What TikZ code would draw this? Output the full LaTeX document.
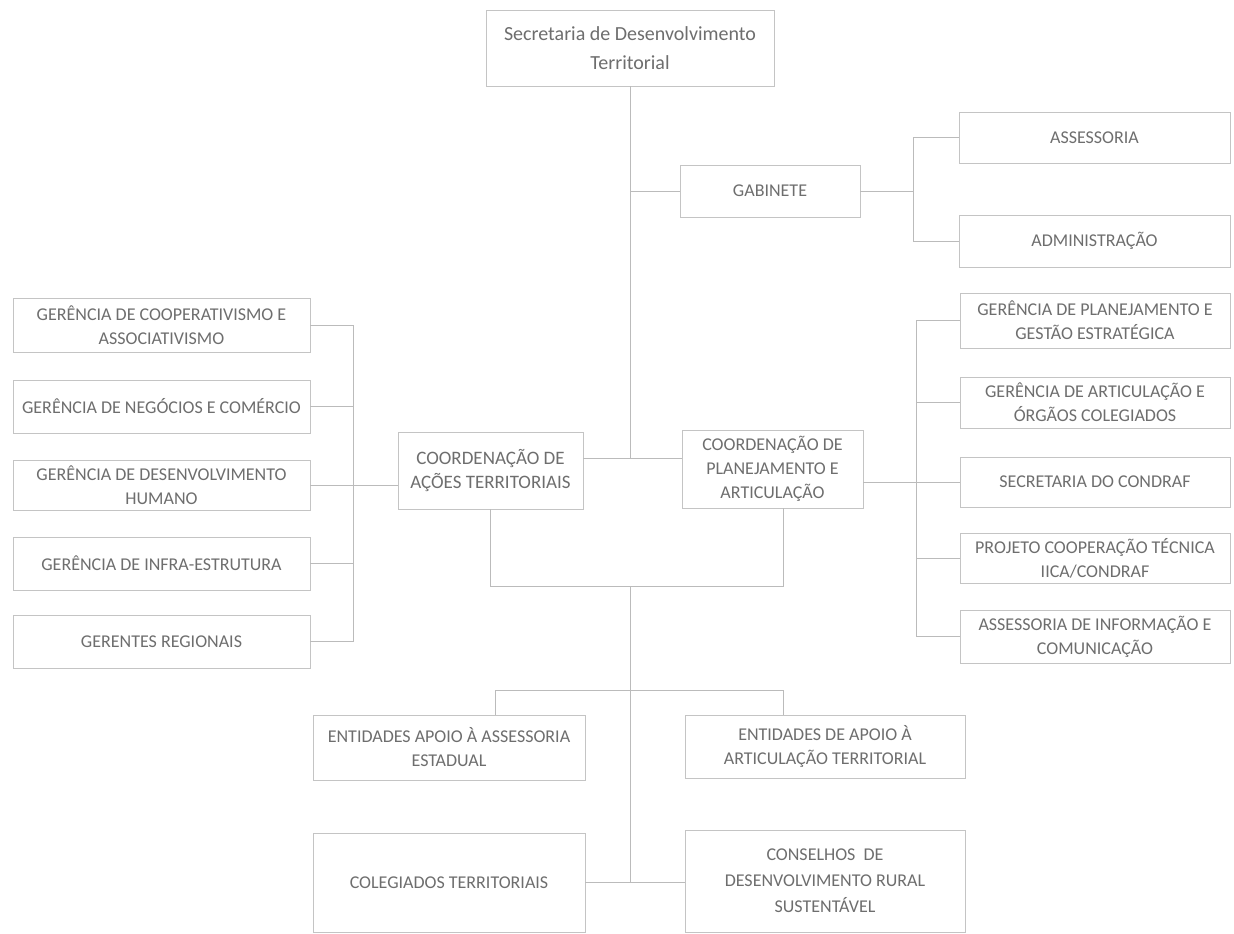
\documentclass[tikz,border=0pt]{standalone}
\usepackage{fontspec}
\setmainfont{Carlito}
\definecolor{boxline}{HTML}{C4C4C4}
\definecolor{conn}{HTML}{BBBBBB}
\definecolor{txt}{HTML}{6E6E6E}
\tikzset{
  orgbox/.style={draw=boxline, line width=0.8pt, fill=white, text=txt, align=center,
    inner sep=2pt, font=\fontsize{18}{24}\selectfont},
  wire/.style={draw=conn, line width=0.8pt}
}
\begin{document}
\begin{tikzpicture}[x=1pt,y=-1pt]
\useasboundingbox[fill=white] (0,0) rectangle (1234,934);

% top
\node[orgbox,minimum width=288pt,minimum height=76pt,font=\fontsize{20}{29}\selectfont] (top) at (630,48) {Secretaria de Desenvolvimento\\Territorial};
\node[orgbox,minimum width=180pt,minimum height=52pt] (gab) at (770,191) {GABINETE};
\node[orgbox,minimum width=271pt,minimum height=51pt] (ass) at (1094.5,137.5) {ASSESSORIA};
\node[orgbox,minimum width=271pt,minimum height=52pt] (adm) at (1094.5,241) {ADMINISTRAÇÃO};

% right column
\node[orgbox,minimum width=270pt,minimum height=55pt] (r1) at (1095,320.5) {GERÊNCIA DE PLANEJAMENTO E\\GESTÃO ESTRATÉGICA};
\node[orgbox,minimum width=270pt,minimum height=51pt] (r2) at (1095,402.5) {GERÊNCIA DE ARTICULAÇÃO E\\ÓRGÃOS COLEGIADOS};
\node[orgbox,minimum width=270pt,minimum height=50pt] (r3) at (1095,482) {SECRETARIA DO CONDRAF};
\node[orgbox,minimum width=270pt,minimum height=50pt] (r4) at (1095,558) {PROJETO COOPERAÇÃO TÉCNICA\\IICA/CONDRAF};
\node[orgbox,minimum width=270pt,minimum height=53pt] (r5) at (1095,636.5) {ASSESSORIA DE INFORMAÇÃO E\\COMUNICAÇÃO};

% left column
\node[orgbox,minimum width=297pt,minimum height=54pt] (l1) at (161.5,325) {GERÊNCIA DE COOPERATIVISMO E\\ASSOCIATIVISMO};
\node[orgbox,minimum width=297pt,minimum height=53pt] (l2) at (161.5,406.5) {GERÊNCIA DE NEGÓCIOS E COMÉRCIO};
\node[orgbox,minimum width=297pt,minimum height=50pt] (l3) at (161.5,485) {GERÊNCIA DE DESENVOLVIMENTO\\HUMANO};
\node[orgbox,minimum width=297pt,minimum height=53pt] (l4) at (161.5,563.5) {GERÊNCIA DE INFRA-ESTRUTURA};
\node[orgbox,minimum width=297pt,minimum height=53pt] (l5) at (161.5,641.5) {GERENTES REGIONAIS};

% coordinations
\node[orgbox,minimum width=185pt,minimum height=77pt,font=\fontsize{19}{24}\selectfont] (cat) at (490.5,470.5) {COORDENAÇÃO DE\\AÇÕES TERRITORIAIS};
\node[orgbox,minimum width=181pt,minimum height=78pt] (cpa) at (772.5,469) {COORDENAÇÃO DE\\PLANEJAMENTO E\\ARTICULAÇÃO};

% bottom
\node[orgbox,minimum width=272pt,minimum height=65pt] (ent1) at (449,747.5) {ENTIDADES APOIO À ASSESSORIA\\ESTADUAL};
\node[orgbox,minimum width=280pt,minimum height=63pt] (ent2) at (825,746.5) {ENTIDADES DE APOIO À\\ARTICULAÇÃO TERRITORIAL};
\node[orgbox,minimum width=272pt,minimum height=99pt] (col) at (449,882.5) {COLEGIADOS TERRITORIAIS};
\node[orgbox,minimum width=280pt,minimum height=102pt,font=\fontsize{18}{26}\selectfont] (cons) at (825,881) {CONSELHOS~~DE\\DESENVOLVIMENTO RURAL\\SUSTENTÁVEL};

% connectors: top spine
\coordinate (hub) at (630,458);
\draw[wire] (top.south) -- (hub);
\draw[wire] (top.south |- gab.west) -- (gab.west);
\coordinate (gj) at (913,191);
\draw[wire] (gab.east) -- (gj);
\draw[wire] (gj |- ass.west) -- (gj |- adm.west);
\draw[wire] (gj |- ass.west) -- (ass.west);
\draw[wire] (gj |- adm.west) -- (adm.west);
\draw[wire] (cat.east |- hub) -- (cpa.west |- hub);

% right spine
\coordinate (rj) at (916,482);
\draw[wire] (cpa.east |- rj) -- (r3.west);
\draw[wire] (rj |- r1.west) -- (rj |- r5.west);
\foreach \n in {r1,r2,r4,r5} \draw[wire] (rj |- \n.west) -- (\n.west);

% left spine
\coordinate (lj) at (353,485);
\draw[wire] (lj |- l1.east) -- (lj |- l5.east);
\foreach \n in {l1,l2,l3,l4,l5} \draw[wire] (\n.east) -- (lj |- \n.east);
\draw[wire] (lj |- l3.east) -- (cat.west |- l3.east);

% bracket under coordinations
\coordinate (b2) at (783,586);
\draw[wire] (cat.south) -- (cat.south |- b2) -- (b2) -- (b2 |- cpa.south);
\coordinate (m1) at (630,586);
\coordinate (m2) at (630,882.5);
\draw[wire] (m1) -- (m2);
\coordinate (e1) at (495,690);
\coordinate (e2) at (783,690);
\draw[wire] (e1 |- ent1.north) -- (e1) -- (e2) -- (e2 |- ent2.north);
\draw[wire] (col.east) -- (cons.west |- col.east);
\end{tikzpicture}
\end{document}
